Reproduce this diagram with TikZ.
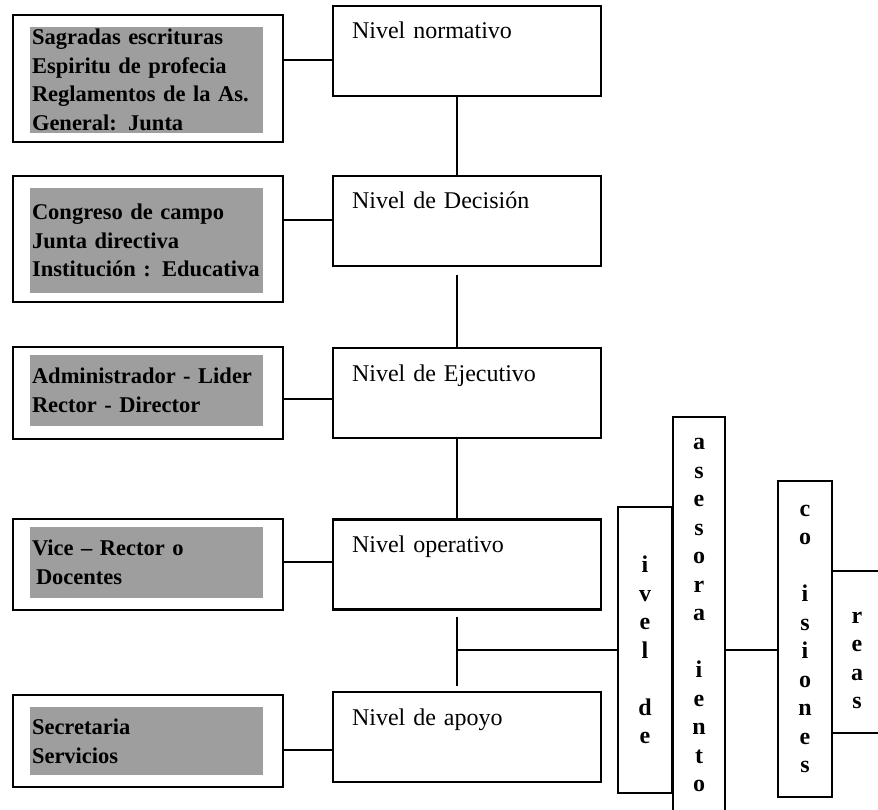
\documentclass[tikz,border=0pt]{standalone}
\usepackage{fontspec}
\setmainfont{Liberation Serif}
\begin{document}
\begin{tikzpicture}[x=1pt,y=-1pt,line width=2pt,
	caja/.style={draw,line width=2.4pt,minimum width=270pt,inner sep=0pt},
	sombra/.style={fill=black!38,text width=229pt,inner xsep=2pt,inner ysep=2pt,align=left,
		font=\bfseries\fontsize{22.5}{28.7}\selectfont},
	nivel/.style={draw,line width=2.4pt,text width=230pt,inner xsep=19pt,inner ysep=8pt,
		text height=25pt,text depth=49pt,align=left,font=\fontsize{24}{28}\selectfont},
	columna/.style={draw,line width=2.4pt,minimum width=54pt,inner sep=0pt,align=center,
		font=\bfseries\fontsize{24}{28.5}\selectfont}]
		\useasboundingbox (0,0) rectangle (878,810);
		\clip (0,0) rectangle (878,810);
		% cajas de la izquierda
		\node[caja,minimum height=127pt] (s1) at (148,78.5) {};
		\node[sombra,minimum height=106pt] (t1) at (146.5,80) {Sagradas escrituras\\Espiritu de profecia\\Reglamentos de la As.\\General: Junta};
		\node[caja,minimum height=126pt] (s2) at (148,239) {};
		\node[sombra,minimum height=105pt] (t2) at (146.5,240.5) {Congreso de campo\\Junta directiva\\Institución : Educativa};
		\node[caja,minimum height=92pt] (s3) at (148,393) {};
		\node[sombra,minimum height=71pt] (t3) at (146.5,390.5) {Administrador - Lider\\Rector - Director};
		\node[caja,minimum height=91pt] (s4) at (148,564.5) {};
		\node[sombra,minimum height=71pt] (t4) at (146.5,562.5) {Vice -- Rector o\\\hspace{4pt}Docentes};
		\node[caja,minimum height=92pt] (s5) at (148,741) {};
		\node[sombra,minimum height=68pt] (t5) at (146.5,741) {Secretaria\\Servicios};
		% niveles
		\node[nivel] (n1) at (467,51) {Nivel normativo};
		\node[nivel] (n2) at (467,221) {Nivel de Decisión};
		\node[nivel] (n3) at (467,393) {Nivel de Ejecutivo};
		\node[nivel] (n4) at (467,564.5) {Nivel operativo};
		\node[nivel] (n5) at (467,737) {Nivel de apoyo};
		% columnas
		\node[columna,minimum height=286pt] (ivel) at (645,650) {i\\v\\e\\l\\\mbox{}\\d\\e};
		\node[columna,minimum width=52pt,minimum height=396pt] (ases) at (699,615) {a\\s\\e\\s\\o\\r\\a\\\mbox{}\\i\\e\\n\\t\\o};
		\node[columna,minimum height=316pt] (comi) at (805,639) {c\\o\\\mbox{}\\i\\s\\i\\o\\n\\e\\s};
		\node[columna,minimum width=50pt,minimum height=162pt] (reas) at (857,652) {\mbox{}\\r\\e\\a\\s};
		% conexiones
		\foreach \i/\y in {1/60,2/220,3/399,4/562,5/750}
		\draw (s\i.east |- 0,\y) -- (n\i.west |- 0,\y);
		\draw ([xshift=-10pt]n1.south) -- ([xshift=-10pt]n2.north);
		\draw[shorten <=8pt] ([xshift=-10pt]n2.south) -- ([xshift=-10pt]n3.north);
		\draw ([xshift=-10pt]n3.south) -- ([xshift=-10pt]n4.north);
		\draw[shorten <=6pt,shorten >=5pt] ([xshift=-10pt]n4.south) -- ([xshift=-10pt]n5.north);
		\coordinate (tronco) at ([xshift=-10pt]n4.south);
		\draw (tronco |- ivel.west) -- (ivel.west);
		\draw (ases.east |- ivel.west) -- (comi.west |- ivel.west);
		\end{tikzpicture}
\end{document}
